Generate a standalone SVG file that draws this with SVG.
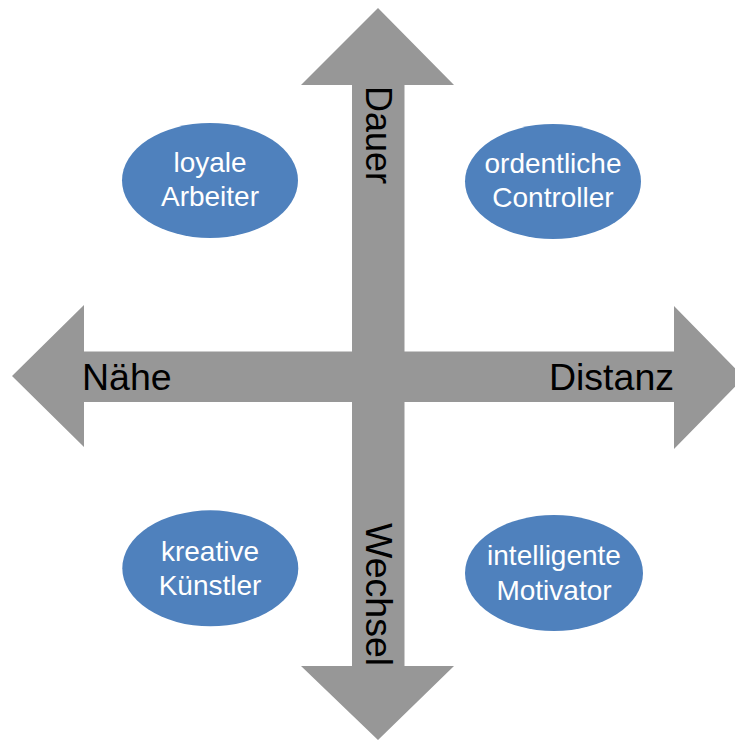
<svg xmlns="http://www.w3.org/2000/svg" width="735" height="740" viewBox="0 0 735 740">
<style>
.arrow{fill:#979797;stroke:none}
.node ellipse{fill:#4F81BD}
.nt{font-family:"Liberation Sans",Arial,sans-serif;font-size:28px;fill:#fff;text-anchor:middle}
.al{font-family:"Liberation Sans",Arial,sans-serif;font-size:37.5px;fill:#000}
</style>
<rect width="735" height="740" fill="#fff"/>
<g id="connectors">
<polygon class="arrow" points="12,376 84,305 84,351.5 674,351.5 674,306 744,377.5 674,449 674,402 84,402 84,447"/>
<polygon class="arrow" points="378,8 454,85 404.5,85 404.5,666 454,666 378,740 301,666 352,666 352,85 301,85"/>
<text class="al" x="82" y="389.5">Nähe</text>
<text class="al" x="674" y="389.5" text-anchor="end">Distanz</text>
<text class="al" transform="translate(366,86) rotate(90)" style="font-size:36px">Dauer</text>
<text class="al" transform="translate(366,523) rotate(90)">Wechsel</text>
</g>
<g id="node-loyale" class="node">
<ellipse cx="210" cy="180.5" rx="88" ry="57.5"/>
<text class="nt" x="210" y="171.5">loyale</text>
<text class="nt" x="210" y="206">Arbeiter</text>
</g>
<g id="node-ordentliche" class="node">
<ellipse cx="553" cy="181.5" rx="88" ry="57.5"/>
<text class="nt" x="553" y="172.5">ordentliche</text>
<text class="nt" x="553" y="207">Controller</text>
</g>
<g id="node-kreative" class="node">
<ellipse cx="210.3" cy="568.3" rx="88" ry="58"/>
<text class="nt" x="210" y="561">kreative</text>
<text class="nt" x="210" y="595">Künstler</text>
</g>
<g id="node-intelligente" class="node">
<ellipse cx="554" cy="573" rx="89" ry="58"/>
<text class="nt" x="554" y="565">intelligente</text>
<text class="nt" x="554" y="600">Motivator</text>
</g>
</svg>
